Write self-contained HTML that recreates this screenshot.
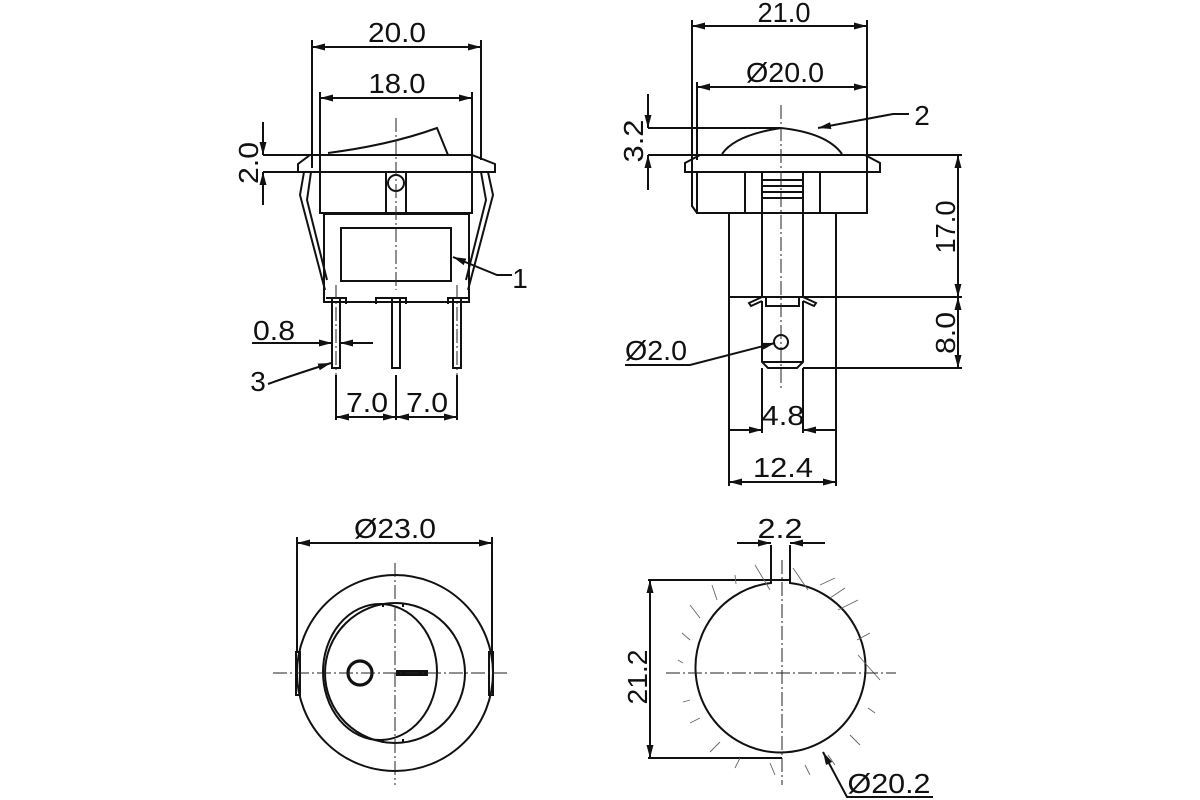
<!DOCTYPE html>
<html><head><meta charset="utf-8"><style>
html,body{margin:0;padding:0;background:#fff}
svg{display:block}
text{font-family:"Liberation Sans",sans-serif;font-size:28px;fill:#111}
</style></head><body>
<svg width="1200" height="800" viewBox="0 0 1200 800" xmlns="http://www.w3.org/2000/svg">
<defs>
<marker id="a" markerUnits="userSpaceOnUse" markerWidth="14" markerHeight="8" refX="13" refY="3.5" orient="auto-start-reverse"><path d="M0,0 L13,3.5 L0,7 z" fill="#111"/></marker>
</defs>
<rect width="1200" height="800" fill="#fff"/>
<g stroke="#111" stroke-width="2" fill="none">
<!-- ===== TOP LEFT ===== -->
<line x1="312" y1="47" x2="481" y2="47" marker-start="url(#a)" marker-end="url(#a)"/>
<line x1="312" y1="40" x2="312" y2="168"/><line x1="481" y1="40" x2="481" y2="160"/>
<line x1="320" y1="98" x2="472" y2="98" marker-start="url(#a)" marker-end="url(#a)"/>
<line x1="320" y1="92" x2="320" y2="213"/><line x1="472" y1="92" x2="472" y2="213"/>
<path d="M328,153 Q390,145 437,128 L448,155"/>
<path d="M298,164 L310,155 L472,155 L495,164 L495,172 L298,172 Z"/>
<rect x="320" y="172" width="152" height="41"/>
<path d="M386,172 V213 M406,172 V213"/>
<circle cx="396" cy="183" r="8"/>
<rect x="324" y="214" width="145" height="88"/>
<rect x="341" y="228" width="110" height="53"/>
<path d="M304,172 L300,195 L325,290 M311,172 L307,200 L327,280"/>
<path d="M488,172 L493,195 L468,290 M481,172 L486,200 L466,280"/>
<path d="M326,298 H346 V304 M376,304 V298 H406 V304 M448,304 V298 H468"/>
<rect x="332" y="298" width="8" height="70"/><rect x="392" y="298" width="8" height="70"/><rect x="453" y="298" width="8" height="70"/>
<line x1="263" y1="122" x2="263" y2="155" marker-end="url(#a)"/>
<line x1="263" y1="205" x2="263" y2="172" marker-end="url(#a)"/>
<line x1="263" y1="155" x2="330" y2="155"/><line x1="263" y1="172" x2="298" y2="172"/>
<line x1="252" y1="343" x2="332" y2="343" marker-end="url(#a)"/>
<line x1="373" y1="343" x2="340" y2="343" marker-end="url(#a)"/>
<path d="M268,384 Q290,376 331,363" marker-end="url(#a)"/>
<path d="M512,275 H497 L453,257" marker-end="url(#a)"/>
<line x1="336" y1="417" x2="396" y2="417" marker-start="url(#a)" marker-end="url(#a)"/>
<line x1="396" y1="417" x2="457" y2="417" marker-start="url(#a)" marker-end="url(#a)"/>
<path d="M336,375 V420 M396,375 V420 M457,375 V420"/>
<!-- ===== TOP RIGHT ===== -->
<line x1="692" y1="26" x2="867" y2="26" marker-start="url(#a)" marker-end="url(#a)"/>
<line x1="697" y1="87" x2="867" y2="87" marker-start="url(#a)" marker-end="url(#a)"/>
<path d="M692,20 V206 L697,213 M867,20 V213 M697,82 V160"/>
<path d="M722,154 Q735,135 781,128 Q827,133 842,154"/>
<path d="M685,163 L700,155 L865,155 L880,163 L880,172 L685,172 Z"/>
<rect x="697" y="172" width="170" height="41"/>
<path d="M745,172 V213 M820,172 V213"/>
<path d="M762,172 V297 M803,172 V297 M762,180 H803 M762,186 H803 M762,192 H803 M762,198 H803"/>
<rect x="729" y="213" width="107" height="84"/>
<path d="M762,297 L749,303 L751,306 L762,301 M803,297 L816,303 L814,306 L803,301"/>
<path d="M766,297 V306 H799 V297"/>
<path d="M762,301 V362 L768,368 H797 L803,362 V301 M762,362 H803"/>
<circle cx="781" cy="342" r="7"/>
<line x1="958" y1="155" x2="958" y2="297" marker-start="url(#a)" marker-end="url(#a)"/>
<line x1="958" y1="297" x2="958" y2="368" marker-start="url(#a)" marker-end="url(#a)"/>
<path d="M867,155 H962 M836,297 H962 M803,368 H962"/>
<line x1="648" y1="94" x2="648" y2="128" marker-end="url(#a)"/>
<line x1="648" y1="190" x2="648" y2="155" marker-end="url(#a)"/>
<path d="M648,128 H780 M648,155 H700"/>
<path d="M625,365 H690 L775,343" marker-end="url(#a)"/>
<line x1="729" y1="430" x2="762" y2="430" marker-end="url(#a)"/>
<line x1="836" y1="430" x2="803" y2="430" marker-end="url(#a)"/>
<path d="M762,368 V433 M803,368 V433 M729,297 V486 M836,297 V486"/>
<line x1="729" y1="482" x2="836" y2="482" marker-start="url(#a)" marker-end="url(#a)"/>
<!-- ===== BOTTOM LEFT ===== -->
<line x1="297" y1="543" x2="492" y2="543" marker-start="url(#a)" marker-end="url(#a)"/>
<path d="M297,537 V653 M492,537 V653"/>
<circle cx="395" cy="673" r="98"/>
<rect x="296" y="652" width="4" height="43"/><rect x="489" y="652" width="4" height="43"/>
<circle cx="395" cy="673" r="70"/>
<ellipse cx="380" cy="672" rx="57" ry="68"/>
<path d="M383,603 V607 M403,603 V607 M383,739 V743 M403,739 V743"/>
<circle cx="360" cy="673" r="12" stroke-width="3.2"/>
<rect x="397" y="671" width="30" height="4" fill="#111"/>
<!-- ===== BOTTOM RIGHT ===== -->
<path d="M771,545 V583 A85,85 0 1 0 790,583 V545"/>
<line x1="737" y1="543" x2="771" y2="543" marker-end="url(#a)"/>
<line x1="825" y1="543" x2="790" y2="543" marker-end="url(#a)"/>
<line x1="650" y1="580" x2="650" y2="758" marker-start="url(#a)" marker-end="url(#a)"/>
<path d="M648,580 H790 M648,758 H782"/>
<path d="M933,797 H847 L823,752" marker-end="url(#a)"/>
</g>
<!-- construction ticks -->
<g stroke="#666" stroke-width="0.9" fill="none">
<path d="M755,565 L770,590 M793,568 L808,590 M820,585 L835,578 M830,598 L845,588 M838,610 L858,600 M857,640 L870,633 M858,655 L880,680 M868,708 L875,713 M850,735 L860,745 M828,755 L835,765 M805,765 L810,775 M770,763 L775,775 M740,758 L735,768 M720,742 L710,752 M700,718 L690,723 M690,700 L683,702 M683,663 L678,660 M690,640 L682,633 M700,618 L690,605 M717,600 L712,585 M736,584 L735,575"/>
</g>
<g stroke="#222" stroke-width="1" fill="none" stroke-dasharray="14 3 2 3">
<line x1="396" y1="118" x2="396" y2="290"/>
<line x1="781" y1="105" x2="781" y2="390"/>
<line x1="273" y1="673" x2="510" y2="673"/>
<line x1="395" y1="563" x2="395" y2="785"/>
<line x1="666" y1="673" x2="896" y2="673"/>
<line x1="782" y1="560" x2="782" y2="785"/>
<line x1="336" y1="285" x2="336" y2="375"/><line x1="457" y1="285" x2="457" y2="375"/>
</g>
<!-- text -->
<text x="397" y="42" text-anchor="middle" textLength="58" lengthAdjust="spacingAndGlyphs">20.0</text>
<text x="397" y="93" text-anchor="middle" textLength="57" lengthAdjust="spacingAndGlyphs">18.0</text>
<text transform="translate(258,163) rotate(-90)" text-anchor="middle" textLength="42" lengthAdjust="spacingAndGlyphs">2.0</text>
<text x="274" y="340" text-anchor="middle" textLength="42" lengthAdjust="spacingAndGlyphs">0.8</text>
<text x="258" y="391" text-anchor="middle">3</text>
<text x="520" y="288" text-anchor="middle">1</text>
<text x="367" y="412" text-anchor="middle" textLength="42" lengthAdjust="spacingAndGlyphs">7.0</text>
<text x="427" y="412" text-anchor="middle" textLength="42" lengthAdjust="spacingAndGlyphs">7.0</text>
<text x="784" y="22" text-anchor="middle" textLength="53" lengthAdjust="spacingAndGlyphs">21.0</text>
<text x="785" y="82" text-anchor="middle" textLength="78" lengthAdjust="spacingAndGlyphs">Ø20.0</text>
<text x="922" y="125" text-anchor="middle">2</text>
<path d="M909,114 H893 L818,128" stroke="#111" stroke-width="2" fill="none" marker-end="url(#a)"/>
<text transform="translate(643,141) rotate(-90)" text-anchor="middle" textLength="43" lengthAdjust="spacingAndGlyphs">3.2</text>
<text transform="translate(955,227) rotate(-90)" text-anchor="middle" textLength="53" lengthAdjust="spacingAndGlyphs">17.0</text>
<text transform="translate(955,333) rotate(-90)" text-anchor="middle" textLength="42" lengthAdjust="spacingAndGlyphs">8.0</text>
<text x="656" y="360" text-anchor="middle" textLength="62" lengthAdjust="spacingAndGlyphs">Ø2.0</text>
<text x="783" y="425" text-anchor="middle" textLength="43" lengthAdjust="spacingAndGlyphs">4.8</text>
<text x="783" y="477" text-anchor="middle" textLength="60" lengthAdjust="spacingAndGlyphs">12.4</text>
<text x="395" y="538" text-anchor="middle" textLength="82" lengthAdjust="spacingAndGlyphs">Ø23.0</text>
<text x="780" y="538" text-anchor="middle" textLength="45" lengthAdjust="spacingAndGlyphs">2.2</text>
<text transform="translate(647,677) rotate(-90)" text-anchor="middle" textLength="55" lengthAdjust="spacingAndGlyphs">21.2</text>
<text x="889" y="793" text-anchor="middle" textLength="83" lengthAdjust="spacingAndGlyphs">Ø20.2</text>
</svg>
</body></html>
